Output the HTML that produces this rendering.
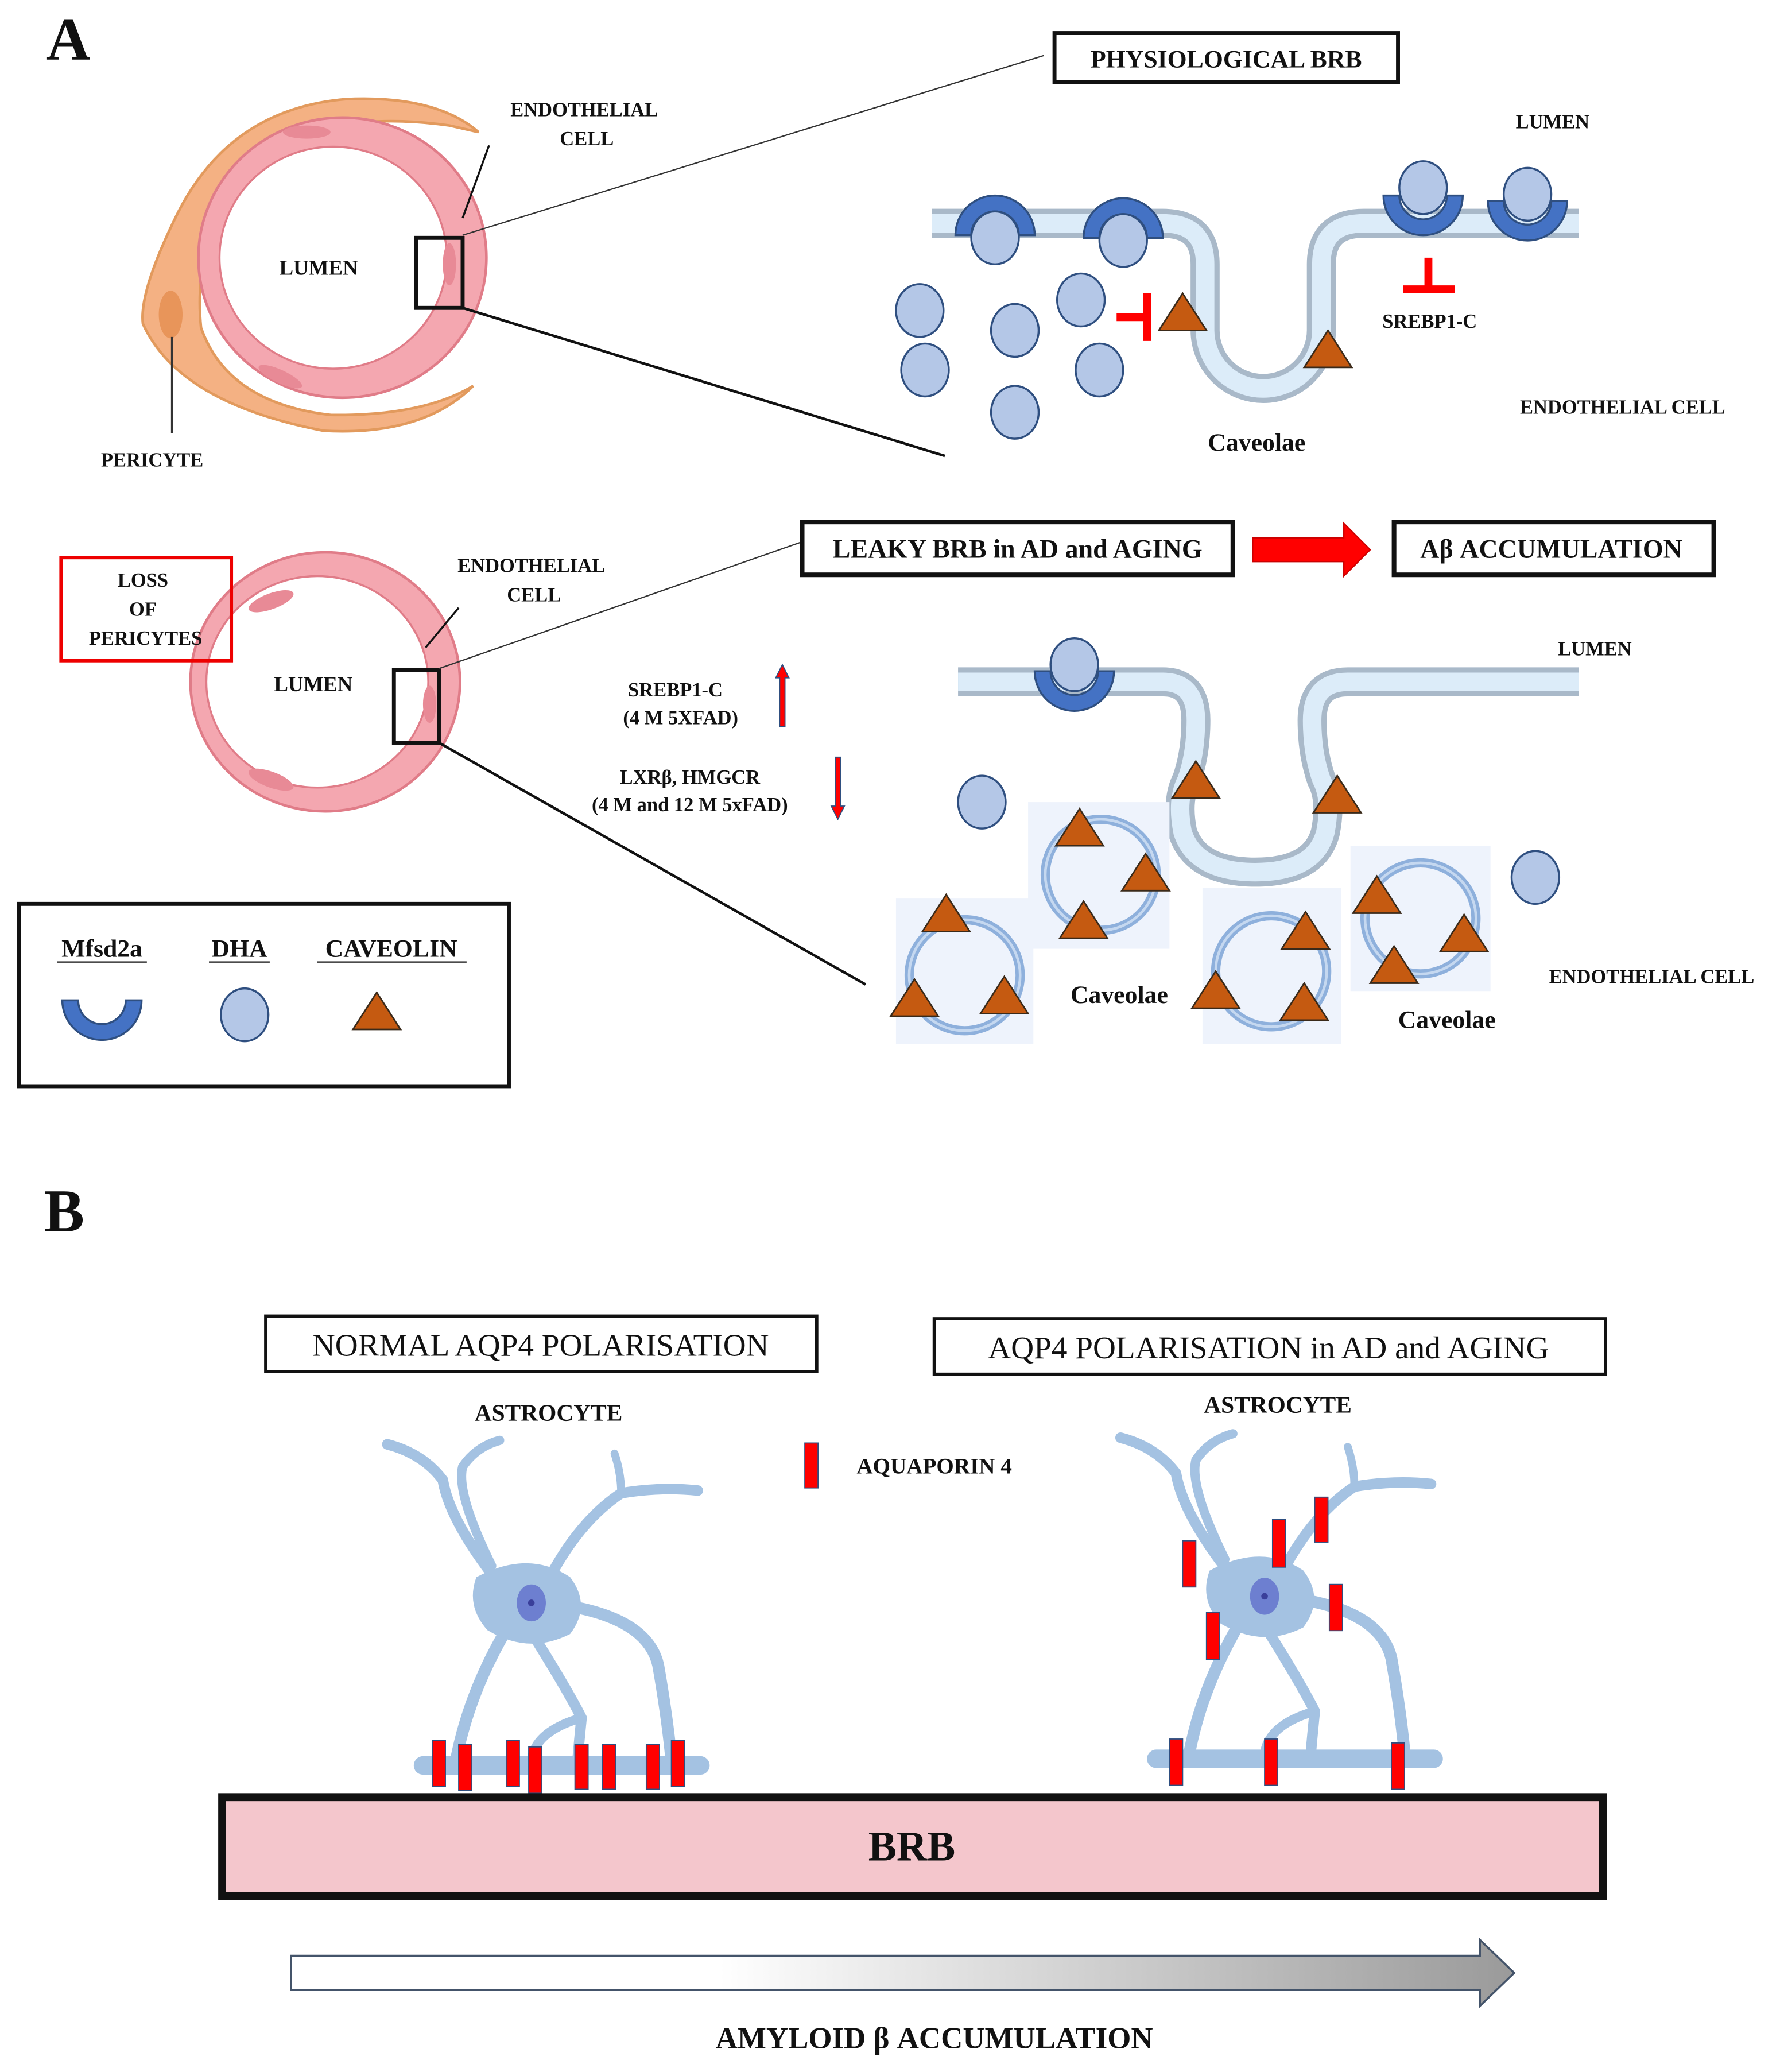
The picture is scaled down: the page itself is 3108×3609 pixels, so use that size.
<!DOCTYPE html>
<html><head><meta charset="utf-8"><style>
html,body{margin:0;padding:0;background:#fff}
svg{display:block}
text{font-family:"Liberation Serif",serif;font-weight:bold;fill:#111}
</style></head><body>
<svg width="3108" height="3609" viewBox="0 0 1350 1568" xmlns="http://www.w3.org/2000/svg">
<defs>
<linearGradient id="g" x1="0" x2="1"><stop offset="0.35" stop-color="#fff"/><stop offset="1" stop-color="#9a9a9a"/></linearGradient>
<g id="tri"><path d="M-18,10 L0,-18 L18,10 Z" fill="#c55a11" stroke="#3a2a1a" stroke-width="1.2"/></g>
<g id="dha"><ellipse rx="18" ry="20" fill="#b4c7e7" stroke="#2f4f80" stroke-width="1.5"/></g>
<g id="cupU"><path d="M-30,0 A30,30 0 0 0 30,0 L18,0 A18,18 0 0 1 -18,0 Z" fill="#4472c4" stroke="#2f4f80" stroke-width="1.5"/></g>
<g id="cupD"><path d="M-30,0 A30,30 0 0 1 30,0 L18,0 A18,18 0 0 0 -18,0 Z" fill="#4472c4" stroke="#2f4f80" stroke-width="1.5"/></g>
<g id="ves"><circle r="42" fill="none" stroke="#8eb0dc" stroke-width="7"/><circle r="42" fill="none" stroke="#c5d8f0" stroke-width="2"/></g>
<g id="astro" fill="none" stroke="#a4c2e2" stroke-linecap="round">
 <path d="M375,1195 Q340,1150 335,1120 Q320,1100 293,1093" stroke-width="8"/>
 <path d="M372,1185 Q345,1130 350,1110 Q360,1095 378,1090" stroke-width="7"/>
 <path d="M418,1190 Q440,1150 470,1130 Q500,1125 528,1128" stroke-width="8"/>
 <path d="M470,1130 Q470,1115 465,1100" stroke-width="6"/>
 <path d="M385,1230 Q355,1280 345,1332" stroke-width="9"/>
 <path d="M405,1240 Q430,1280 440,1300 Q438,1320 437,1332" stroke-width="8"/>
 <path d="M440,1300 Q405,1310 402,1332" stroke-width="7"/>
 <path d="M428,1215 Q490,1225 498,1260 Q505,1300 508,1332" stroke-width="9"/>
 <path d="M320,1336 H530" stroke-width="14"/>
 <path d="M362,1195 Q400,1175 430,1195 Q445,1215 430,1235 Q400,1250 370,1232 Q355,1215 362,1195 Z" fill="#a4c2e2" stroke-width="4"/>
 <ellipse cx="402" cy="1213" rx="11" ry="14" fill="#6d7fd0" stroke="none"/>
 <circle cx="402" cy="1213" r="2.5" fill="#3a3f9a" stroke="none"/>
</g>
</defs>

<text x="35" y="45" font-size="46">A</text>

<!-- top vessel -->
<path d="M362,100 Q330,72 262,75 Q175,82 135,160 Q105,220 108,245 Q135,305 245,326 Q320,330 358,292 Q320,315 250,314 Q172,305 152,248 Q145,180 188,120 Q250,82 340,95 Z" fill="#f4b183" stroke="#e29a5d" stroke-width="2"/>
<ellipse cx="129" cy="238" rx="9" ry="18" fill="#e8955a"/>
<ellipse cx="259" cy="195" rx="109" ry="106" fill="#f4a7b0" stroke="#e07c88" stroke-width="2"/>
<ellipse cx="252" cy="195" rx="86" ry="84" fill="#fff" stroke="#e07c88" stroke-width="1.5"/>
<ellipse cx="230" cy="122" rx="18" ry="6" fill="#e88a96" opacity="0"/>
<ellipse cx="235" cy="122" rx="18" ry="5" fill="#e88a96" transform="rotate(-15 235 100)" opacity="0"/>
<ellipse cx="232" cy="100" rx="18" ry="5" fill="#e88a96"/>
<ellipse cx="212" cy="285" rx="18" ry="5" fill="#e88a96" transform="rotate(25 212 285)"/>
<ellipse cx="340" cy="200" rx="5" ry="16" fill="#e88a96"/>
<rect x="315" y="180" width="35" height="53" fill="none" stroke="#111" stroke-width="3"/>
<line x1="350" y1="178" x2="790" y2="42" stroke="#333" stroke-width="1"/>
<line x1="350" y1="233" x2="715" y2="345" stroke="#111" stroke-width="2"/>
<text x="442" y="88" font-size="15" text-anchor="middle">ENDOTHELIAL</text>
<text x="444" y="110" font-size="15" text-anchor="middle">CELL</text>
<line x1="370" y1="110" x2="350" y2="165" stroke="#111" stroke-width="1.5"/>
<text x="241" y="208" font-size="16" text-anchor="middle">LUMEN</text>
<line x1="130" y1="255" x2="130" y2="328" stroke="#333" stroke-width="1.5"/>
<text x="115" y="353" font-size="15" text-anchor="middle">PERICYTE</text>

<rect x="798" y="25" width="260" height="37" fill="#fff" stroke="#111" stroke-width="3"/>
<text x="928" y="51" font-size="19" text-anchor="middle">PHYSIOLOGICAL BRB</text>
<path d="M705,169 L880,169 Q912,169 912,200 L912,250 A44,44 0 0 0 1000,250 L1000,200 Q1000,169 1032,169 L1195,169" fill="none" stroke="#a9b9c9" stroke-width="22"/>
<path d="M705,169 L880,169 Q912,169 912,200 L912,250 A44,44 0 0 0 1000,250 L1000,200 Q1000,169 1032,169 L1195,169" fill="none" stroke="#dcecf9" stroke-width="14"/>
<use href="#cupD" x="753" y="178"/><use href="#dha" x="753" y="180"/>
<use href="#cupD" x="850" y="180"/><use href="#dha" x="850" y="182"/>
<use href="#dha" x="1077" y="142"/><use href="#cupU" x="1077" y="148"/>
<use href="#dha" x="1156" y="147"/><use href="#cupU" x="1156" y="152"/>
<use href="#dha" x="696" y="235"/><use href="#dha" x="700" y="280"/>
<use href="#dha" x="768" y="250"/><use href="#dha" x="818" y="227"/>
<use href="#dha" x="832" y="280"/><use href="#dha" x="768" y="312"/>
<use href="#tri" x="895" y="240"/><use href="#tri" x="1005" y="268"/>
<line x1="845" y1="240" x2="866" y2="240" stroke="#f00" stroke-width="6"/>
<line x1="868" y1="222" x2="868" y2="258" stroke="#f00" stroke-width="6"/>
<line x1="1081" y1="195" x2="1081" y2="217" stroke="#f00" stroke-width="6"/>
<line x1="1062" y1="219" x2="1101" y2="219" stroke="#f00" stroke-width="6"/>
<text x="1082" y="248" font-size="15" text-anchor="middle">SREBP1-C</text>
<text x="1175" y="97" font-size="15" text-anchor="middle">LUMEN</text>
<text x="1228" y="313" font-size="15" text-anchor="middle">ENDOTHELIAL CELL</text>
<text x="951" y="341" font-size="19" text-anchor="middle">Caveolae</text>

<!-- lower vessel -->
<ellipse cx="246" cy="516" rx="102" ry="98" fill="#f4a7b0" stroke="#e07c88" stroke-width="2"/>
<ellipse cx="240" cy="516" rx="84" ry="80" fill="#fff" stroke="#e07c88" stroke-width="1.5"/>
<ellipse cx="205" cy="455" rx="18" ry="6" fill="#e88a96" transform="rotate(-20 205 455)"/>
<ellipse cx="205" cy="590" rx="18" ry="6" fill="#e88a96" transform="rotate(20 205 590)"/>
<ellipse cx="325" cy="533" rx="5" ry="14" fill="#e88a96"/>
<rect x="298" y="507" width="34" height="55" fill="none" stroke="#111" stroke-width="3"/>
<rect x="46" y="422" width="129" height="78" fill="none" stroke="#e00" stroke-width="2.5"/>
<text x="108" y="444" font-size="15" text-anchor="middle">LOSS</text>
<text x="108" y="466" font-size="15" text-anchor="middle">OF</text>
<text x="110" y="488" font-size="15" text-anchor="middle">PERICYTES</text>
<text x="402" y="433" font-size="15" text-anchor="middle">ENDOTHELIAL</text>
<text x="404" y="455" font-size="15" text-anchor="middle">CELL</text>
<line x1="347" y1="460" x2="322" y2="490" stroke="#111" stroke-width="1.5"/>
<text x="237" y="523" font-size="16" text-anchor="middle">LUMEN</text>
<line x1="332" y1="506" x2="607" y2="410" stroke="#333" stroke-width="1"/>
<line x1="332" y1="562" x2="655" y2="745" stroke="#111" stroke-width="2"/>

<rect x="607" y="395" width="326" height="40" fill="#fff" stroke="#111" stroke-width="3.5"/>
<text x="770" y="422" font-size="20" text-anchor="middle">LEAKY BRB in AD and AGING</text>
<path d="M948,407 H1017 V396 L1037,416 L1017,436 V425 H948 Z" fill="#f00" stroke="#c00" stroke-width="1"/>
<rect x="1055" y="395" width="242" height="40" fill="#fff" stroke="#111" stroke-width="3.5"/>
<text x="1174" y="422" font-size="20" text-anchor="middle">Aβ ACCUMULATION</text>

<text x="511" y="527" font-size="15" text-anchor="middle">SREBP1-C</text>
<text x="515" y="548" font-size="15" text-anchor="middle">(4 M 5XFAD)</text>
<path d="M590,550 V513 H587 L592,503 L597,513 H594 V550 Z" fill="#f00" stroke="#2f4f80" stroke-width="0.8"/>
<text x="522" y="593" font-size="15" text-anchor="middle">LXRβ, HMGCR</text>
<text x="522" y="614" font-size="15" text-anchor="middle">(4 M  and 12 M 5xFAD)</text>
<path d="M632,573 V610 H629 L634,620 L639,610 H636 V573 Z" fill="#f00" stroke="#2f4f80" stroke-width="0.8"/>

<path d="M725,516 L880,516 Q905,516 905,545 Q905,570 898,590 Q890,605 895,630 Q905,660 950,660 Q995,660 1003,630 Q1008,605 1000,590 Q993,570 993,545 Q993,516 1020,516 L1195,516" fill="none" stroke="#a9b9c9" stroke-width="22"/>
<path d="M725,516 L880,516 Q905,516 905,545 Q905,570 898,590 Q890,605 895,630 Q905,660 950,660 Q995,660 1003,630 Q1008,605 1000,590 Q993,570 993,545 Q993,516 1020,516 L1195,516" fill="none" stroke="#dcecf9" stroke-width="14"/>
<use href="#dha" x="813" y="503"/><use href="#cupU" x="813" y="508"/>
<use href="#tri" x="905" y="594"/><use href="#tri" x="1012" y="605"/>
<use href="#dha" x="743" y="607"/><use href="#dha" x="1162" y="664"/>
<rect x="678" y="680" width="104" height="110" fill="#eef3fc"/>
<rect x="778" y="607" width="107" height="111" fill="#eef3fc"/>
<rect x="910" y="672" width="105" height="118" fill="#eef3fc"/>
<rect x="1022" y="640" width="106" height="110" fill="#eef3fc"/>
<use href="#ves" x="730" y="738"/><use href="#ves" x="833" y="662"/>
<use href="#ves" x="962" y="735"/><use href="#ves" x="1075" y="695"/>
<use href="#tri" x="716" y="695"/><use href="#tri" x="692" y="759"/><use href="#tri" x="760" y="757"/>
<use href="#tri" x="817" y="630"/><use href="#tri" x="867" y="664"/><use href="#tri" x="820" y="700"/>
<use href="#tri" x="988" y="708"/><use href="#tri" x="920" y="753"/><use href="#tri" x="987" y="762"/>
<use href="#tri" x="1042" y="681"/><use href="#tri" x="1108" y="710"/><use href="#tri" x="1055" y="734"/>
<text x="847" y="759" font-size="19" text-anchor="middle">Caveolae</text>
<text x="1095" y="778" font-size="19" text-anchor="middle">Caveolae</text>
<text x="1250" y="744" font-size="15" text-anchor="middle">ENDOTHELIAL CELL</text>
<text x="1207" y="496" font-size="15" text-anchor="middle">LUMEN</text>

<rect x="14" y="684" width="371" height="138" fill="none" stroke="#111" stroke-width="3"/>
<text x="77" y="724" font-size="19" text-anchor="middle">Mfsd2a</text>
<text x="181" y="724" font-size="19" text-anchor="middle">DHA</text>
<text x="296" y="724" font-size="19" text-anchor="middle">CAVEOLIN</text>
<line x1="43" y1="728" x2="111" y2="728" stroke="#111"/><line x1="158" y1="728" x2="204" y2="728" stroke="#111"/><line x1="240" y1="728" x2="353" y2="728" stroke="#111"/>
<use href="#cupU" x="77" y="757"/>
<use href="#dha" x="185" y="768"/>
<use href="#tri" x="285" y="769"/>

<text x="33" y="932" font-size="46">B</text>
<rect x="201" y="996" width="417" height="42" fill="#fff" stroke="#111" stroke-width="2.5"/>
<text x="409" y="1026" font-size="24" text-anchor="middle" style="font-weight:normal">NORMAL AQP4 POLARISATION</text>
<rect x="707" y="998" width="508" height="42" fill="#fff" stroke="#111" stroke-width="2.5"/>
<text x="960" y="1028" font-size="24" text-anchor="middle" style="font-weight:normal">AQP4 POLARISATION in AD and AGING</text>
<text x="415" y="1075" font-size="18" text-anchor="middle">ASTROCYTE</text>
<text x="967" y="1069" font-size="18" text-anchor="middle">ASTROCYTE</text>
<rect x="609" y="1092" width="10" height="34" fill="#f00" stroke="#2f4f80" stroke-width="0.8"/>
<text x="707" y="1115" font-size="17" text-anchor="middle">AQUAPORIN 4</text>

<use href="#astro"/>
<use href="#astro" x="555" y="-5"/>

<g fill="#f00" stroke="#2f4f80" stroke-width="0.8">
<rect x="327" y="1317" width="10" height="35"/><rect x="347" y="1320" width="10" height="35"/>
<rect x="383" y="1317" width="10" height="35"/><rect x="400" y="1322" width="10" height="35"/>
<rect x="435" y="1320" width="10" height="34"/><rect x="456" y="1320" width="10" height="34"/>
<rect x="489" y="1320" width="10" height="34"/><rect x="508" y="1317" width="10" height="35"/>
<rect x="885" y="1316" width="10" height="35"/><rect x="957" y="1316" width="10" height="35"/>
<rect x="1053" y="1319" width="10" height="35"/>
<rect x="895" y="1166" width="10" height="35"/><rect x="963" y="1150" width="10" height="36"/>
<rect x="995" y="1133" width="10" height="34"/><rect x="1006" y="1199" width="10" height="35"/>
<rect x="913" y="1220" width="10" height="36"/>
</g>

<rect x="168" y="1360" width="1045" height="75" fill="#f4c6cc" stroke="#111" stroke-width="6"/>
<text x="690" y="1408" font-size="32" text-anchor="middle">BRB</text>

<path d="M220,1480 H1120 V1468 L1146,1493 L1120,1518 V1506 H220 Z" fill="url(#g)" stroke="#44546a" stroke-width="1.5"/>
<text x="707" y="1550" font-size="23" text-anchor="middle">AMYLOID β ACCUMULATION</text>
</svg>
</body></html>
